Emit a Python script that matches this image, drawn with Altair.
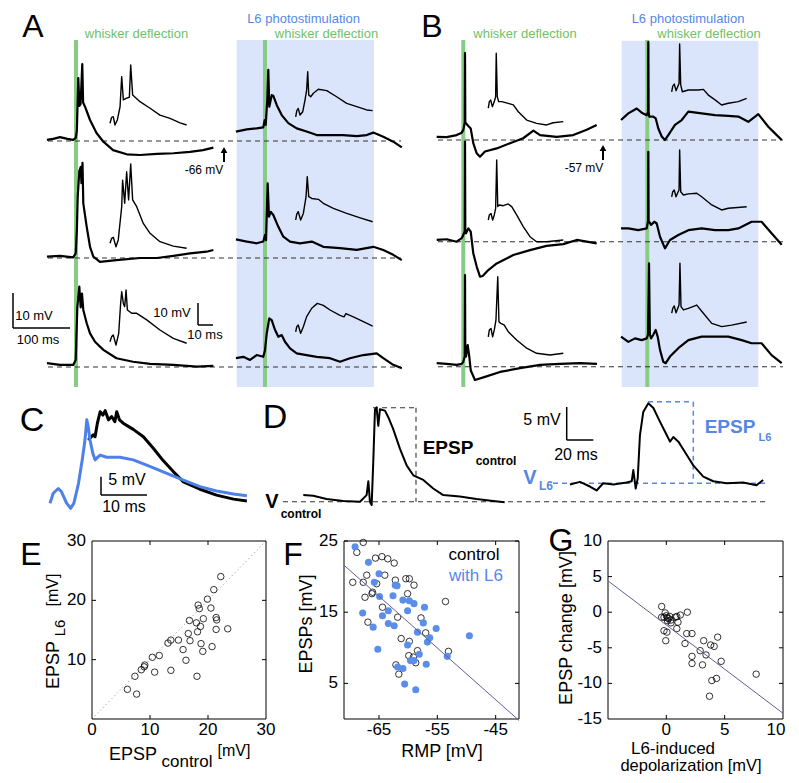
import altair as alt
import pandas as pd

# ------------------------------------------------------------------
# Traces: time in ms (re whisker deflection / inset start), Vm in mV (re baseline)
# ------------------------------------------------------------------
# Panel A, control (whisker only) - main traces
A_C1_T = [-51, -40, -28, -15, -5, -0.5, 1.5, 3, 4, 6, 8, 10, 11, 12.5, 15.8, 20, 24.6, 36, 48, 65, 89, 112, 142, 171, 200, 223, 241]
A_C1_V = [0.3, 0.6, 1.1, 0.6, 0.3, 0.9, 3, 12, 18, 10, 10.5, 18, 22, 11, 9.8, 8, 6, 2.3, -0.2, -2.6, -3.8, -4, -3.7, -3.5, -3.1, -2.6, -1.9]
A_C2_T = [-51, -28, -5, -0.5, 1.5, 3, 5.8, 8.2, 9.6, 11.4, 12.8, 18.8, 24.6, 30.4, 42, 71, 112, 142, 171, 200, 229, 241]
A_C2_V = [0.4, 0.6, 0.2, 1.3, 8, 17.5, 24.8, 26, 21.4, 27.2, 15.6, 8.9, 3.2, 0.4, -1.1, -0.6, 0, 0, 0.6, 1.3, 1.8, 2.3]
A_C3_T = [-51, -28, -5, -0.5, 2.3, 5.8, 8.2, 10.5, 12.8, 18.8, 24.6, 33.3, 48, 71, 100, 130, 171, 212, 241]
A_C3_V = [1.1, 0.6, 0.6, 2, 17, 23, 17, 21, 16.3, 12.5, 9.6, 7.2, 4.9, 2.5, 1.5, 0.9, 0.6, 0.1, 0.3]
# Panel A, control - insets
A_I1_T = [0, 1.1, 2.2, 3.3, 4.9, 6.7, 7.8, 8.9, 10.7, 12.9, 13.8, 15.1, 20, 26.7, 33.3, 40, 46.7, 51.1]
A_I1_V = [0.8, 3.5, 3.8, 0, 2.3, 8.3, 22, 11.4, 12.1, 12.6, 27.3, 13.6, 10.6, 7.6, 4.5, 3.0, 1.0, 0]
A_I2_T = [0, 1.1, 2.2, 4, 5.5, 7.8, 8.4, 9.8, 11.1, 12.4, 13.8, 15.1, 17.8, 22.2, 26.7, 33.3, 42.2, 51.1]
A_I2_V = [0.8, 3.0, 3.5, -0.8, 2.3, 17.4, 29.5, 19, 33.3, 20.5, 36.8, 20.5, 17.4, 9.8, 5.3, 1.5, -0.5, -1.5]
A_I3_T = [0, 1.1, 2.2, 4, 5.8, 7.1, 7.8, 8.9, 9.8, 10.7, 11.6, 14.5, 17.8, 24.5, 33.3, 42.2, 51.1]
A_I3_V = [0.6, 2.9, 3.6, -0.9, 4.4, 18, 23.3, 18, 16.5, 24.1, 15, 13.5, 13.5, 10.5, 5.9, 2.1, -0.1]
# Panel A, with L6 photostimulation - main traces
A_L1_T = [-51, -32, -14.6, -3, -0.5, 1.2, 4, 5.8, 7.5, 11.8, 14.6, 20.5, 29.3, 40.9, 55.6, 73, 90.7, 114, 137, 161, 178.4, 190, 207.5, 225, 240]
A_L1_V = [2.7, 3.3, 3.6, 3.9, 6, 4.6, 11.7, 20.3, 9.8, 13.1, 12.9, 10.3, 7.4, 5.1, 3.6, 2.7, 1.7, 1.7, 1.7, 1.4, 1.7, 2.4, 1.2, -0.2, -1.8]
A_L2_T = [-51, -32, -14.6, -3, 0, 1.8, 4.7, 7, 10, 14.6, 23.4, 32.2, 43.9, 61.4, 82, 102.3, 131.6, 161, 190, 207.5, 225, 240]
A_L2_V = [5.3, 4.7, 4.2, 4.7, 6.6, 5.1, 21.3, 11.8, 13.2, 12.3, 8.9, 6.1, 4.7, 4.2, 4.7, 3.2, 2.8, 2.3, 3.2, 2.3, 0.9, -0.6]
A_L3_T = [-51, -38, -26.3, -14.6, -3, 0, 3, 7.5, 11.8, 17.5, 23.4, 29.3, 35.1, 43.9, 55.6, 73, 90.7, 114, 131.6, 149, 172.5, 196, 207.5, 225, 240]
A_L3_V = [2.8, 3.2, 2.3, 3.7, 3.2, 5.1, 9.8, 14.2, 13.7, 10.9, 8.9, 9.4, 7.5, 5.6, 4.2, 3.7, 3.2, 2.8, 1.8, 2.8, 3.7, 4.2, 2.8, 0.9, -0.1]
# Panel A, with L6 - insets
A_J1_T = [0, 0.7, 1.7, 2.9, 4.7, 6.2, 7.3, 8, 8.7, 10, 11.8, 15.1, 20.7, 27.3, 34, 40.7, 47.3, 51.3]
A_J1_V = [0.1, 2.8, 3.9, 0.9, 2.4, 7.7, 12.3, 20.6, 10, 9.2, 10.8, 12.6, 12, 9.2, 6.2, 4.7, 3.2, 2.9]
A_J2_T = [0, 0.7, 1.7, 3.3, 5.1, 6.9, 7.7, 8.7, 10.7, 15.1, 18.4, 25.1, 34, 43, 51.3]
A_J2_V = [0, 2.7, 3.8, 0, 3, 10.6, 19.7, 10.6, 9.8, 9.4, 7.6, 5.3, 3, 1, -0.8]
A_J3_T = [0, 0.7, 1.7, 3.3, 5.1, 7.3, 10.7, 14.4, 18.4, 22.9, 29.5, 32.2, 33.5, 38.4, 45.1, 51.3]
A_J3_V = [0.1, 2.4, 3.2, -0.6, 2.4, 7, 10.8, 13, 12.1, 10, 7.6, 6.9, 8.4, 6.9, 4.7, 2.7]
# Panel B, control - main traces
B_C1_T = [-46.7, -29, -11.6, -2.8, 0, 2.5, 3, 3.5, 4.7, 8.8, 13, 17.5, 23.5, 29.3, 38, 58.6, 82, 105, 123, 134.6, 164, 193, 216.5, 234]
B_C1_V = [0.9, 0.8, 1.4, 2.1, 2.9, 5, 24.8, 5, 4.8, 4, 3.3, -0.9, -3.8, -4.8, -3.3, -2.4, -0.9, 0.5, 2.7, 1.4, 0.9, 1.4, 2.9, 4.3]
B_C2_T = [-46.7, -29, -11.6, -2.8, 0, 2.5, 3, 3.5, 4.7, 8.8, 13, 17.5, 23.5, 29.3, 34, 43.9, 58.6, 87.7, 117, 146, 175.4, 199, 216.5, 234]
B_C2_V = [0.5, 0.7, 0, 1, 1.9, 3, 28.6, 3, 2.4, 3.8, 2.9, -3.3, -7.1, -10, -9.8, -8.1, -6.2, -3.8, -2.4, -1.2, -0.7, 0.5, 0, -0.5]
B_C3_T = [-46.7, -29, -11.6, -2.8, 0, 2.5, 3, 3.5, 4.7, 7.7, 10.5, 13, 20.5, 38, 64.4, 99.5, 134.6, 169.6, 204.7, 234.5]
B_C3_V = [1, 0.8, 0.5, 0.8, 1.4, 3, 26.2, 3, 2.9, 6.2, 2.9, -1, -3.8, -2.9, -1.5, -0.4, 0.5, 0.8, 1, 0.8]
# Panel B, control - insets
B_I1_T = [0, 0.7, 1.6, 2.7, 4, 4.9, 5.3, 6, 6.9, 8.9, 13.3, 16.7, 20, 25.6, 32.2, 38.9, 43.3, 50]
B_I1_V = [-0.1, 2.9, 3.6, 0.6, 2.9, 5.1, 24.9, 5.1, 2.9, 2.9, 2.1, 1.4, -1.7, -5.5, -7, -7.7, -6.7, -6.2]
B_I2_T = [0, 0.7, 1.8, 2.9, 4, 4.9, 5.6, 6.3, 7.3, 10, 13.3, 15.6, 18.9, 23.3, 27.8, 32.2, 38.9, 50]
B_I2_V = [0, 2.3, 3, 0, 2.3, 5.3, 27.3, 6.1, 6.8, 6.5, 7.3, 6.1, 2.3, -3, -7.6, -9.9, -9.9, -9.1]
B_I3_T = [0, 0.7, 1.8, 2.9, 4, 5.1, 6.3, 7.1, 8.3, 10.5, 13.3, 18.9, 25.6, 32.2, 41.1, 50]
B_I3_V = [0.1, 3.2, 3.9, 0.1, 3.2, 7.7, 27.4, 6.9, 6.2, 5.5, 2.4, -1.4, -5.1, -7.4, -8.2, -7.4]
# Panel B, with L6 - main traces
B_L1_T = [-46.1, -33.3, -18.6, -9.8, -1, 1.3, 1.8, 2.3, 3.5, 10.5, 14.7, 19.3, 25.3, 31, 36.8, 48.6, 60.4, 72, 95.4, 118.8, 142.1, 159.6, 177.2, 194.7, 212.3, 224, 235.8]
B_L1_V = [5.7, 7.6, 9, 7.8, 7.1, 8, 28, 8, 6.7, 6.7, 6.2, 3.3, 1, 0, 1.4, 4.3, 5.7, 8.1, 7.6, 7.1, 6.9, 6.7, 5.2, 7.4, 3.8, 1.9, 0]
B_L2_T = [-46.1, -33.3, -15.8, -1, 1.3, 1.8, 2.3, 6.5, 12.3, 16.5, 22.3, 31, 39.8, 54.4, 72, 95.4, 118.8, 142.1, 159.6, 183, 200.5, 218, 235.8]
B_L2_V = [3.8, 3.8, 3.3, 3.8, 6, 25.7, 6, 4.8, 5.7, 5.2, 1.4, -1.9, 0.5, 1.9, 3.3, 3.8, 3.3, 3.3, 3.8, 5.7, 5.7, 2.4, -0.9]
B_L3_T = [-46.1, -33.3, -21.6, -9.8, -1, 1.3, 3, 4.5, 6.5, 10.5, 14.7, 18.2, 22.3, 28, 32.3, 39.8, 54.4, 72, 95.4, 118.8, 142.1, 165.6, 183, 200.5, 218, 235.8]
B_L3_V = [8.4, 6.9, 7.9, 7.4, 7.9, 9, 29.3, 9, 7.9, 8.9, 10.3, 8.4, 4.6, 1.2, 0.8, 2.7, 5.1, 7.4, 8.4, 8.4, 8.4, 7.4, 6.5, 6.5, 3.1, 0.8]
# Panel B, with L6 - insets
B_J1_T = [0, 0.7, 1.7, 2.9, 4, 4.9, 5.3, 6, 7.1, 11.1, 17.8, 21.1, 24.4, 28.9, 33.3, 37.7, 44.4, 50]
B_J1_V = [0.1, 2.7, 3.6, 0.6, 2.4, 3.9, 21.8, 3.2, 0.1, 0.9, 0.9, 1.2, -1.4, -3.6, -5.9, -5.1, -4.4, -2.9]
B_J2_T = [0, 0.7, 1.7, 2.9, 4, 4.9, 5.3, 6, 7.8, 11.1, 16.7, 20, 26.7, 33.3, 37.7, 50]
B_J2_V = [0.1, 2.4, 3.2, 0.1, 1.9, 3.2, 21.4, 2.4, 0.9, 1.4, 1.7, 0.1, -3.6, -5.9, -5.1, -4.4]
B_J3_T = [0, 0.7, 1.7, 2.9, 4, 4.9, 5.5, 6.2, 7.8, 11.1, 16.7, 21.1, 26.7, 33.3, 40, 50]
B_J3_V = [-0.1, 2.1, 3.2, 0.1, 2.1, 3.6, 22.6, 2.9, 1.4, 2.1, 3.6, -0.1, -4.7, -6.2, -5.5, -4.1]
# Panel C (average EPSPs)
C_BLUE_T = [0, 0.7, 1.8, 2.5, 3.6, 4.5, 5.2, 6.2, 7.1, 7.6, 8, 8.3, 8.7, 9.3, 9.8, 10.1, 10.9, 12.3, 15.2, 18.1, 21.7, 25.4, 29, 32.6, 36.2, 39.9, 42.8]
C_BLUE_V = [0.5, 3.2, 4.5, 3.6, 0.5, -0.9, 0.5, 5.9, 13.1, 17.7, 23.2, 21.4, 17.7, 14.1, 12.3, 12.7, 13.6, 13, 13, 12.3, 10.5, 8.6, 6.8, 5, 3.8, 3, 2.5]
C_BLACK_T = [8.3, 9.4, 9.8, 10.3, 10.9, 11.5, 12, 12.7, 13.4, 14.1, 14.5, 15.1, 15.9, 18.1, 20.3, 22.5, 24.6, 26.8, 29, 32.6, 36.2, 39.9, 42.8]
C_BLACK_V = [17.7, 19.1, 18.6, 22.3, 25.4, 24.5, 25.7, 23.2, 24.1, 22.7, 25.4, 23.2, 22.3, 20.6, 18.6, 15.4, 12.1, 9.1, 6.3, 4.3, 2.7, 1.6, 1.1]
# Panel D (measurement scheme)
D_CTRL_T = [0, 7.5, 17.5, 30, 42.6, 47.6, 48.9, 50.1, 51.4, 52.6, 53.9, 55.1, 56.4, 57.6, 61.4, 63.9, 67.6, 72.7, 77.7, 82.7, 90.2, 97.7, 105.2, 117.7, 130.2, 142.7, 151.4]
D_CTRL_V = [1, 0.9, 0.4, 0.1, 0, 1, 3.1, 0, -0.5, 6, 14, 14.3, 11.5, 14, 13.8, 12.8, 11, 8, 5.5, 4, 3.3, 2, 1, 0.8, 0.4, 0.1, -0.1]
D_L6_T = [0, 7.5, 15, 20, 25, 32.6, 42.6, 46.4, 47.6, 49.4, 50.9, 52.6, 55.1, 58.9, 62.7, 67.7, 72.7, 75.2, 77.7, 81.5, 87.7, 92.7, 100.2, 107.7, 117.7, 130.2, 140.2, 145.2]
D_L6_V = [2.6, 3, 2.3, 1.7, 2.8, 2.6, 2.9, 3.1, 4.8, 2, 3.5, 10.1, 13.6, 14.9, 14.2, 12.1, 10.1, 9.1, 9.8, 9.1, 7.1, 5.5, 3.8, 3.1, 2.8, 2.9, 2.5, 3.3]

# Panel E
E_CTRL = [6.1, 7.7, 7.4, 8.5, 9.0, 9.1, 10.4, 11.6, 10.8, 13.1, 13.6, 14.9, 13.6, 15.7, 16.2, 16.6, 16.9, 16.8, 18.0, 18.2, 18.7, 18.8, 18.1, 18.3, 18.5, 19.2, 19.1, 19.9, 20.5, 20.7, 21.0, 21.4, 21.5, 21.4, 22.2, 23.4]
E_L6 = [5.0, 4.2, 7.2, 8.3, 8.8, 9.1, 10.4, 10.7, 7.9, 12.8, 13.3, 13.3, 8.2, 11.7, 9.9, 14.4, 13.2, 16.6, 16.2, 14.7, 15.6, 12.7, 7.2, 19.2, 18.6, 16.9, 11.4, 20.2, 18.7, 12.2, 21.8, 17.1, 16.7, 15.1, 24.0, 15.2]
# Panel F
F_CTRL_RMP = [-67.7, -68.8, -65.6, -64.5, -63.5, -62.4, -69.5, -67.7, -67.1, -67.4, -66.2, -66.1, -65.4, -64.0, -64.4, -66.9, -62.2, -61.8, -61.2, -60.4, -59.8, -59.0, -60.1, -59.8, -59.9, -58.4, -59.1, -58.7, -62.1, -61.6, -57.8, -57.0, -53.6, -53.1]
F_CTRL_EPSP = [24.8, 23.4, 22.6, 22.8, 22.5, 21.9, 19.2, 19.2, 20.2, 17.1, 17.6, 17.8, 19.0, 20.2, 15.7, 13.6, 19.5, 14.3, 11.3, 19.7, 19.7, 18.8, 17.6, 10.9, 8.9, 9.6, 8.7, 7.9, 7.6, 6.3, 14.2, 12.1, 16.5, 9.5]
F_L6_RMP = [-69.1, -66.8, -65.0, -65.8, -64.9, -64.4, -67.8, -66.0, -65.2, -63.4, -63.4, -62.6, -62.4, -62.2, -61.9, -60.9, -59.8, -59.0, -60.1, -60.1, -58.1, -59.6, -59.0, -61.8, -60.9, -60.6, -58.7, -58.4, -57.4, -57.2, -56.7, -56.3, -56.9, -55.2, -53.3, -49.5]
F_L6_EPSP = [24.2, 22.0, 20.4, 19.2, 17.2, 14.5, 14.9, 12.9, 9.8, 15.2, 13.4, 17.3, 13.1, 18.8, 18.7, 16.7, 16.6, 16.2, 15.2, 10.4, 9.1, 8.2, 8.2, 7.3, 7.1, 4.9, 4.1, 12.2, 13.5, 15.7, 10.8, 11.4, 7.7, 12.7, 8.8, 11.7]
F_FIT_X = [-71, -41]
F_FIT_Y = [21.6, -0.2]
# Panel G
G_DEPOL = [-0.4, -0.1, -0.4, -0.2, 0, 0.1, 0.2, 0.3, 0.4, 0.1, 0.4, 0.8, 0.9, 1.0, 1.2, 0.9, 1.8, -0.2, 0.05, -0.05, 1.75, 2.2, 1.6, 2.2, 2.2, 2.9, 3.2, 3.4, 3.1, 3.8, 4.1, 4.4, 4.7, 3.9, 4.3, 3.7, 7.7]
G_CHANGE = [0.8, -0.1, -0.7, -0.7, -0.5, -0.8, -0.9, -0.6, -1.1, -1.2, -1.5, -0.7, -0.6, -1.4, -0.4, -2.3, 0, -2.6, -2.8, -4.0, -3.0, -3.0, -4.4, -6.2, -7.2, -5.4, -4.0, -6.0, -7.4, -4.6, -4.8, -3.5, -6.9, -9.6, -9.3, -11.8, -8.7]
G_FIT_X = [-5, 10]
G_FIT_Y = [4.4, -14.2]

# ------------------------------------------------------------------
# Styling / layout
# ------------------------------------------------------------------
FONT = "Liberation Sans"
GREEN_LINE = "#88cc84"
GREEN_TXT = "#72c06c"
BLUE_TXT = "#5588e6"
BLUE_BG = "#dae5fb"
BLUE_TRACE = "#4d80e8"
BLUE_DOT = "#5b8ee8"
FIT = "#5d6095"

W, H, OFF = 783, 767, 8   # drawing size; page pixel = drawing pixel + OFF

MAIN_SX, MAIN_SY = 0.57, 3.5      # px per ms, px per mV
INSET_SX, INSET_SY = 1.5, 2.2
C_SX, C_SY = 4.6, 3.67
D_SX, D_SY = 1.33, 6.6


def place(name, t, v, x0, y0, sx, sy):
    n = min(len(t), len(v))
    return pd.DataFrame({"id": [name] * n, "i": list(range(n)),
                         "px": [x0 + t[k] * sx for k in range(n)],
                         "py": [y0 - v[k] * sy for k in range(n)]})


main_specs = [
    ("a_c1", A_C1_T, A_C1_V, 76, 141), ("a_c2", A_C2_T, A_C2_V, 76, 258), ("a_c3", A_C3_T, A_C3_V, 76, 367),
    ("a_l1", A_L1_T, A_L1_V, 265, 141), ("a_l2", A_L2_T, A_L2_V, 265, 258), ("a_l3", A_L3_T, A_L3_V, 265, 368),
    ("b_c1", B_C1_T, B_C1_V, 463.3, 140), ("b_c2", B_C2_T, B_C2_V, 463.3, 241.7), ("b_c3", B_C3_T, B_C3_V, 463.3, 366.7),
    ("b_l1", B_L1_T, B_L1_V, 647.3, 140), ("b_l2", B_L2_T, B_L2_V, 647.3, 241.7), ("b_l3", B_L3_T, B_L3_V, 647.3, 366),
]
inset_specs = [
    ("a_i1", A_I1_T, A_I1_V, 110, 125), ("a_i2", A_I2_T, A_I2_V, 110, 245), ("a_i3", A_I3_T, A_I3_V, 110, 343),
    ("a_j1", A_J1_T, A_J1_V, 295.7, 117), ("a_j2", A_J2_T, A_J2_V, 295.7, 220), ("a_j3", A_J3_T, A_J3_V, 295.7, 332),
    ("b_i1", B_I1_T, B_I1_V, 488.3, 108), ("b_i2", B_I2_T, B_I2_V, 488.3, 220), ("b_i3", B_I3_T, B_I3_V, 488.3, 337),
    ("b_j1", B_J1_T, B_J1_V, 671.7, 92), ("b_j2", B_J2_T, B_J2_V, 671.7, 197), ("b_j3", B_J3_T, B_J3_V, 671.7, 313),
]
main_df = pd.concat([place(n, t, v, x0, y0, MAIN_SX, MAIN_SY) for n, t, v, x0, y0 in main_specs])
inset_df = pd.concat([place(n, t, v, x0, y0, INSET_SX, INSET_SY) for n, t, v, x0, y0 in inset_specs])
c_blue_df = place("cb", C_BLUE_T, C_BLUE_V, 50, 505, C_SX, C_SY)
c_black_df = place("ck", C_BLACK_T, C_BLACK_V, 50, 505, C_SX, C_SY)
d_df = pd.concat([place("dc", D_CTRL_T, D_CTRL_V, 303.3, 501.7, D_SX, D_SY),
                  place("dl", D_L6_T, D_L6_V, 570, 501.7, D_SX, D_SY)])

XC = alt.Scale(domain=[OFF, W + OFF], range=[0, W], nice=False, zero=False)
YC = alt.Scale(domain=[OFF, H + OFF], range=[0, H], nice=False, zero=False)


def X(f="px"):
    return alt.X(f"{f}:Q", scale=XC, axis=None)


def Y(f="py"):
    return alt.Y(f"{f}:Q", scale=YC, axis=None)


def seg_df(rows):
    return pd.DataFrame(rows, columns=["px", "px2", "py", "py2"])


rect_df = seg_df([(236.7, 374, 40, 387), (621.7, 758.3, 40.7, 387)])
green_df = pd.DataFrame({"px": [76, 265, 463.3, 647.3], "py": [40] * 4, "py2": [387] * 4})
dash_black = seg_df([(48, 401, 141, 141), (48, 401, 258, 258), (48, 401, 367, 367),
                     (438, 783, 140, 140), (438, 783, 241.7, 241.7), (438, 783, 366.7, 366.7),
                     (283, 765, 501.7, 501.7), (373, 416, 407.7, 407.7), (416, 416, 407.7, 501.7)])
dash_blue = seg_df([(553, 765, 483.3, 483.3), (648, 693.3, 401.7, 401.7), (693.3, 693.3, 401.7, 483.3)])
bars = seg_df([
    (13, 13, 328 - 10 * MAIN_SY, 328), (13, 13 + 100 * MAIN_SX, 328, 328),
    (198, 198, 325 - 10 * INSET_SY, 325), (198, 198 + 10 * INSET_SX, 325, 325),
    (101, 101, 495 - 5 * C_SY, 495), (101, 101 + 10 * C_SX, 495, 495),
    (566.7, 566.7, 440 - 5 * D_SY, 440), (566.7, 566.7 + 20 * D_SX, 440, 440),
])
arrow_df = seg_df([(224, 224, 162, 151), (603, 603, 160, 149)])
arrow_head = pd.DataFrame({"px": [224, 603], "py": [150, 148]})

K = "black"
letter_rows = [
    ("A", 33, 37, 32, K, 0), ("B", 432, 37, 32, K, 0), ("C", 32, 431, 34, K, 0), ("D", 275, 428, 34, K, 0),
    ("E", 31, 565, 32, K, 0), ("F", 293, 565, 32, K, 0), ("G", 561, 551, 32, K, 0),
]
text_rows = [
    ("whisker deflection", 136.5, 34, 13, GREEN_TXT, 0), ("whisker deflection", 326.5, 34, 13, GREEN_TXT, 0),
    ("L6 photostimulation", 303.5, 19, 13, BLUE_TXT, 0),
    ("whisker deflection", 525, 34, 13, GREEN_TXT, 0), ("whisker deflection", 709, 34, 13, GREEN_TXT, 0),
    ("L6 photostimulation", 688, 19, 13, BLUE_TXT, 0),
    ("-66 mV", 204, 170, 12, K, 0), ("-57 mV", 584, 168, 12, K, 0),
    ("10 mV", 34, 316, 13, K, 0), ("100 ms", 38, 340, 13, K, 0),
    ("10 mV", 172, 313, 13, K, 0), ("10 ms", 205, 335, 13, K, 0),
    ("5 mV", 127, 480, 16, K, 0), ("10 ms", 124, 507, 16, K, 0),
    ("5 mV", 542, 420, 16, K, 0), ("20 ms", 576, 455, 16, K, 0),
    ("EPSP", 54, 665, 18, K, 270), ("L6", 60, 628, 15, K, 270), ("[mV]", 53, 590, 16, K, 270),
    ("EPSP", 133, 755, 18, K, 0), ("control", 187, 762, 17, K, 0), ("[mV]", 234, 751, 16, K, 0),
    ("EPSPs [mV]", 307, 624, 18, K, 270), ("RMP [mV]", 442, 752, 18, K, 0),
    ("EPSP change [mV]", 567, 628, 18, K, 270), ("L6-induced", 673, 748.5, 17, K, 0),
    ("depolarization [mV]", 691, 766.2, 16.5, K, 0),
    ("control", 474, 555, 17, K, 0), ("with L6", 476, 576, 17, BLUE_TXT, 0),
]
bold_rows = [
    ("EPSP", 448, 448, 19, K, 0), ("control", 496, 461, 12, K, 0),
    ("V", 272, 502, 20, K, 0), ("control", 301, 514, 12, K, 0),
    ("V", 530, 478, 20, BLUE_TXT, 0), ("L6", 546, 486, 12, BLUE_TXT, 0),
    ("EPSP", 730, 427, 19, BLUE_TXT, 0), ("L6", 765, 438, 11, BLUE_TXT, 0),
]
cols = ["text", "px", "py", "size", "color", "angle"]
letter_df = pd.DataFrame(letter_rows, columns=cols)
text_df = pd.DataFrame(text_rows, columns=cols)
bold_df = pd.DataFrame(bold_rows, columns=cols)


def text_layer(df, weight, baseline="middle"):
    return alt.Chart(df).mark_text(font=FONT, fontWeight=weight, baseline=baseline, align="center").encode(
        x=X(), y=Y(), text="text:N",
        size=alt.Size("size:Q", scale=None),
        color=alt.Color("color:N", scale=None),
        angle=alt.Angle("angle:Q", scale=None))


def segs(df, **kw):
    return alt.Chart(df).mark_rule(**kw).encode(x=X(), x2=alt.X2("px2:Q"), y=Y(), y2=alt.Y2("py2:Q"))


def lines(df, **kw):
    return alt.Chart(df).mark_line(strokeJoin="round", **kw).encode(
        x=X(), y=Y(), detail="id:N", order="i:Q")


canvas = alt.layer(
    alt.Chart(rect_df).mark_rect(color=BLUE_BG).encode(x=X(), x2=alt.X2("px2:Q"), y=Y(), y2=alt.Y2("py2:Q")),
    alt.Chart(green_df).mark_rule(color=GREEN_LINE, strokeWidth=4).encode(x=X(), y=Y(), y2=alt.Y2("py2:Q")),
    segs(dash_black, color="#333333", strokeWidth=1.1, strokeDash=[5, 4]),
    segs(dash_blue, color=BLUE_TXT, strokeWidth=1.5, strokeDash=[5, 4]),
    segs(bars, color="black", strokeWidth=1.5),
    segs(arrow_df, color="black", strokeWidth=2),
    alt.Chart(arrow_head).mark_point(shape="triangle-up", filled=True, color="black", size=45, opacity=1).encode(x=X(), y=Y()),
    lines(main_df, color="black", strokeWidth=2.2),
    lines(inset_df, color="black", strokeWidth=1.4),
    lines(c_black_df, color="black", strokeWidth=3),
    lines(c_blue_df, color=BLUE_TRACE, strokeWidth=3),
    lines(d_df, color="black", strokeWidth=2),
    text_layer(letter_df, "normal", "alphabetic"),
    text_layer(text_df, "normal"),
    text_layer(bold_df, "bold"),
)


# ------------------------------------------------------------------
# Scatter panels with their own scales placed by pixel ranges
# ------------------------------------------------------------------
def frame(xs, ys, xd, yd, xt, yt):
    fr = pd.DataFrame({"x": [xd[0]], "x2": [xd[1]], "y": [yd[0]], "y2": [yd[1]]})
    box = alt.Chart(fr).mark_rect(fillOpacity=0, stroke="black", strokeWidth=1).encode(
        x=alt.X("x:Q", scale=xs, axis=None), x2="x2:Q", y=alt.Y("y:Q", scale=ys, axis=None), y2="y2:Q")
    tx = pd.DataFrame({"v": xt, "lo": [yd[0]] * len(xt), "hi": [yd[1]] * len(xt)})
    ty = pd.DataFrame({"v": yt, "lo": [xd[0]] * len(yt), "hi": [xd[1]] * len(yt)})
    out = [box]
    for col, off in (("lo", -4), ("hi", 4)):
        out.append(alt.Chart(tx).mark_rule(color="black", strokeWidth=1, y2Offset=off).encode(
            x=alt.X("v:Q", scale=xs, axis=None), y=alt.Y(f"{col}:Q", scale=ys, axis=None), y2=f"{col}:Q"))
    for col, off in (("lo", 4), ("hi", -4)):
        out.append(alt.Chart(ty).mark_rule(color="black", strokeWidth=1, x2Offset=off).encode(
            y=alt.Y("v:Q", scale=ys, axis=None), x=alt.X(f"{col}:Q", scale=xs, axis=None), x2=f"{col}:Q"))
    return out


def xlabels(xs, ys, vals, ymin, dx=0):
    df = pd.DataFrame({"v": vals, "lab": [str(v) for v in vals], "b": [ymin] * len(vals)})
    return alt.Chart(df).mark_text(font=FONT, fontSize=17, color="black", baseline="top", dy=3, dx=dx).encode(
        x=alt.X("v:Q", scale=xs, axis=None), y=alt.Y("b:Q", scale=ys, axis=None), text="lab:N")


def ylabels(xs, ys, vals, xmin):
    df = pd.DataFrame({"v": vals, "lab": [str(v) for v in vals], "b": [xmin] * len(vals)})
    return alt.Chart(df).mark_text(font=FONT, fontSize=17, color="black", baseline="middle", align="right", dx=-6).encode(
        y=alt.Y("v:Q", scale=ys, axis=None), x=alt.X("b:Q", scale=xs, axis=None), text="lab:N")


def sc(dom, r0, r1):
    return alt.Scale(domain=dom, range=[r0 - OFF, r1 - OFF], nice=False, zero=False)


def open_pts(df, xs, ys, xf, yf):
    return alt.Chart(df).mark_point(shape="circle", filled=False, color="black", size=42,
                                    strokeWidth=0.8, opacity=1).encode(
        x=alt.X(f"{xf}:Q", scale=xs, axis=None), y=alt.Y(f"{yf}:Q", scale=ys, axis=None))


def fit_line(xv, yv, xs, ys, **kw):
    return alt.Chart(pd.DataFrame({"a": xv, "b": yv})).mark_line(**kw).encode(
        x=alt.X("a:Q", scale=xs, axis=None), y=alt.Y("b:Q", scale=ys, axis=None))


# E
xsE, ysE = sc([0, 30], 92, 266), sc([0, 30], 719, 541)
E = alt.layer(
    fit_line([0, 30], [0, 30], xsE, ysE, color="#888888", strokeWidth=1, strokeDash=[1, 3]),
    *frame(xsE, ysE, [0, 30], [0, 30], [10, 20], [10, 20]),
    xlabels(xsE, ysE, [0, 10, 20, 30], 0),
    ylabels(xsE, ysE, [10, 20, 30], 0),
    open_pts(pd.DataFrame({"c": E_CTRL, "l": E_L6}), xsE, ysE, "c", "l"),
)

# F
xsF, ysF = sc([-71, -41], 344, 519), sc([0, 25], 719, 541)
F = alt.layer(
    *frame(xsF, ysF, [-71, -41], [0, 25], [-65, -55, -45], [5, 15, 25]),
    xlabels(xsF, ysF, [-65, -55, -45], 0),
    ylabels(xsF, ysF, [5, 15, 25], -71),
    open_pts(pd.DataFrame({"r": F_CTRL_RMP, "e": F_CTRL_EPSP}), xsF, ysF, "r", "e"),
    alt.Chart(pd.DataFrame({"r": F_L6_RMP, "e": F_L6_EPSP})).mark_circle(
        color=BLUE_DOT, size=50, opacity=1).encode(
        x=alt.X("r:Q", scale=xsF, axis=None), y=alt.Y("e:Q", scale=ysF, axis=None)),
    fit_line(F_FIT_X, F_FIT_Y, xsF, ysF, color=FIT, strokeWidth=1),
)

# G
xsG, ysG = sc([-5, 10], 608, 783), sc([-15, 10], 719, 541)
G = alt.layer(
    *frame(xsG, ysG, [-5, 10], [-15, 10], [0, 5], [-10, -5, 0, 5]),
    xlabels(xsG, ysG, [0, 5], -15),
    xlabels(xsG, ysG, [10], -15, dx=-7),
    ylabels(xsG, ysG, [-15, -10, -5, 0, 5, 10], -5),
    open_pts(pd.DataFrame({"d": G_DEPOL, "c": G_CHANGE}), xsG, ysG, "d", "c"),
    fit_line(G_FIT_X, G_FIT_Y, xsG, ysG, color=FIT, strokeWidth=1),
)

chart = alt.layer(canvas, E, F, G).resolve_scale(x="independent", y="independent").properties(
    width=W, height=H, padding=0, autosize=alt.AutoSizeParams(type="none")
).configure_view(strokeWidth=0)

chart.save("out.html", embed_options={"renderer": "svg", "actions": False})
